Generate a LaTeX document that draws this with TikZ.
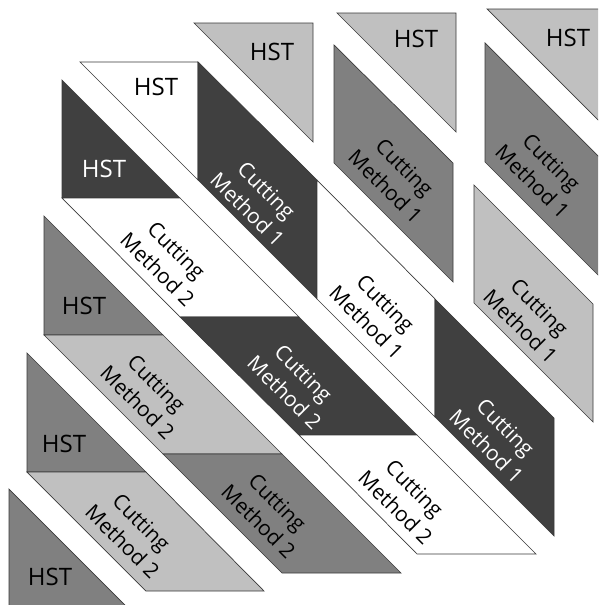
\documentclass[tikz,border=0pt]{standalone}
\usepackage{fontspec}
\setmainfont{Open Sans}
\definecolor{dkg}{HTML}{404040}
\definecolor{mdg}{HTML}{808080}
\definecolor{ltg}{HTML}{C0C0C0}
\definecolor{edge}{HTML}{3A3A3A}
\begin{document}
\begin{tikzpicture}[x=1pt,y=-1pt,
  piece/.style={draw=edge,line width=0.7pt,line join=miter},
  pdk/.style={piece,fill=dkg},
  pmd/.style={piece,fill=mdg},
  plt/.style={piece,fill=ltg},
  pwh/.style={piece,fill=white},
  hst/.style={font=\fontsize{24}{28}\selectfont,inner sep=0pt},
  cmtext/.style={font=\fontsize{21}{27}\selectfont,rotate=-45,align=center,inner sep=0pt},
  onDark/.style={text=white}]
\useasboundingbox (0,0) rectangle (598,605);
\clip (0,0) rectangle (598,605);
% main upper band
\draw[pwh] (80,62) -- (198,62) -- (198,180) -- cycle;
\draw[pdk] (198,62) -- (198,180) -- (317,299) -- (317,180) -- cycle;
\draw[pwh] (317,180) -- (317,299) -- (435,417) -- (435,299) -- cycle;
\draw[pdk] (435,299) -- (435,417) -- (554,536) -- (554,418) -- cycle;
% main lower band
\draw[pdk] (62,80) -- (62,198) -- (180,198) -- cycle;
\draw[pwh] (62,198) -- (180,198) -- (299,317) -- (180,317) -- cycle;
\draw[pdk] (180,317) -- (299,317) -- (417,435) -- (299,435) -- cycle;
\draw[pwh] (299,435) -- (417,435) -- (536,554) -- (417,554) -- cycle;
% second upper band
\draw[plt] (194,23) -- (313,23) -- (313,142) -- cycle;
\draw[pmd] (334,45) -- (334,163) -- (453,282) -- (453,163) -- cycle;
\draw[plt] (474,185) -- (474,303) -- (593,422) -- (593,304) -- cycle;
% second lower band
\draw[pmd] (44,216) -- (44,335) -- (163,335) -- cycle;
\draw[plt] (44,335) -- (163,335) -- (282,454) -- (163,454) -- cycle;
\draw[pmd] (163,454) -- (282,454) -- (401,573) -- (282,573) -- cycle;
% third upper band
\draw[plt] (337,13) -- (456,13) -- (456,132) -- cycle;
\draw[pmd] (485,43) -- (485,162) -- (604,281) -- (604,162) -- cycle;
% third lower band
\draw[pmd] (27,353) -- (27,472) -- (146,472) -- cycle;
\draw[plt] (27,472) -- (146,472) -- (264,591) -- (146,591) -- cycle;
% fourth bands
\draw[plt] (487,9) -- (606,9) -- (606,128) -- cycle;
\draw[pmd] (9,489) -- (9,608) -- (128,608) -- cycle;
% labels
\node[hst] (h1) at (156,87) {HST};
\node[hst,onDark] (h2) at (104,169) {HST};
\node[hst] (h3) at (272,52) {HST};
\node[hst] (h4) at (416,39) {HST};
\node[hst] (h5) at (568,38) {HST};
\node[hst] (h6) at (84,306) {HST};
\node[hst] (h7) at (64,444) {HST};
\node[hst] (h8) at (50,577) {HST};
\node[cmtext,onDark] (c1) at (257,200) {Cutting\\Method 1};
\node[cmtext] (c2) at (376,313) {Cutting\\Method 1};
\node[cmtext,onDark] (c3) at (496,437) {Cutting\\Method 1};
\node[cmtext] (c4) at (395,177) {Cutting\\Method 1};
\node[cmtext] (c5) at (542,172) {Cutting\\Method 1};
\node[cmtext] (c6) at (530,317) {Cutting\\Method 1};
\node[cmtext] (c7) at (167,260) {Cutting\\Method 2};
\node[cmtext,onDark] (c8) at (294,383) {Cutting\\Method 2};
\node[cmtext] (c9) at (405,498) {Cutting\\Method 2};
\node[cmtext] (c10) at (147,393) {Cutting\\Method 2};
\node[cmtext] (c11) at (268,512) {Cutting\\Method 2};
\node[cmtext] (c12) at (132,532) {Cutting\\Method 2};
\end{tikzpicture}
\end{document}
